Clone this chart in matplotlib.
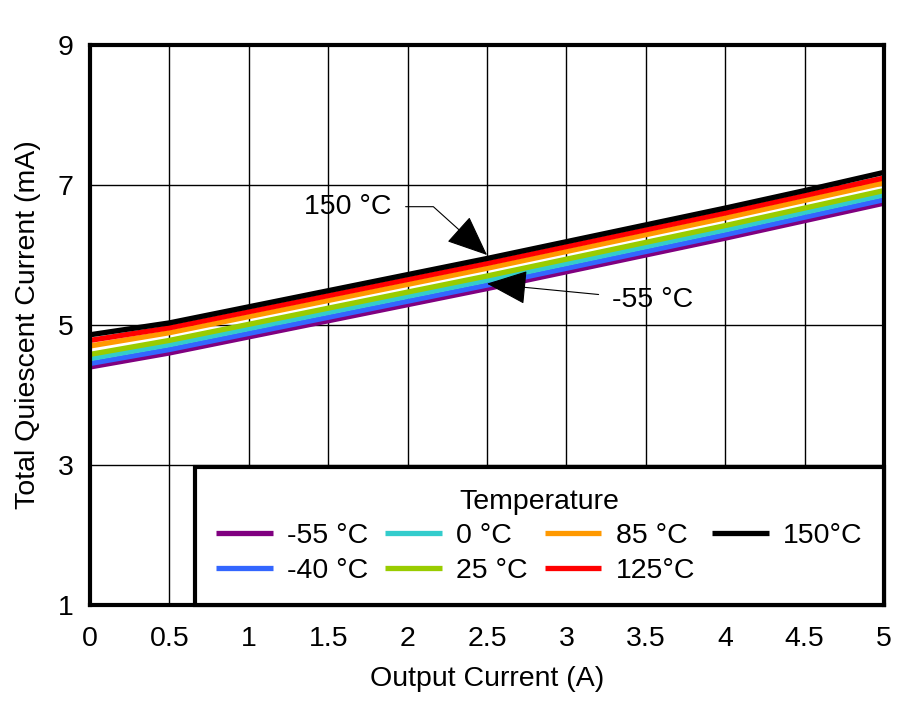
import matplotlib.pyplot as plt

plt.rcParams["font.family"] = ["Liberation Sans", "DejaVu Sans"]

output_current = [0, 0.5, 1, 1.5, 2, 2.5, 3, 3.5, 4, 4.5, 5]

iq_m55 = [4.40, 4.60, 4.83, 5.06, 5.29, 5.52, 5.76, 6.00, 6.24, 6.49, 6.74]
iq_m40 = [4.45, 4.65, 4.88, 5.11, 5.34, 5.57, 5.81, 6.05, 6.29, 6.54, 6.79]
iq_0 = [4.52, 4.72, 4.95, 5.18, 5.41, 5.64, 5.88, 6.12, 6.36, 6.61, 6.86]
iq_25 = [4.58, 4.78, 5.01, 5.24, 5.47, 5.70, 5.94, 6.18, 6.42, 6.67, 6.92]
iq_85 = [4.70, 4.89, 5.12, 5.35, 5.58, 5.81, 6.05, 6.29, 6.53, 6.78, 7.03]
iq_125 = [4.78, 4.96, 5.19, 5.42, 5.65, 5.88, 6.12, 6.36, 6.60, 6.85, 7.10]
iq_150 = [4.86, 5.03, 5.26, 5.49, 5.72, 5.95, 6.19, 6.43, 6.67, 6.92, 7.18]

labels = ["-55 °C", "-40 °C", "0 °C", "25 °C", "85 °C", "125°C", "150°C"]
colors = ["#800080", "#3366ff", "#33cccc", "#99cc00", "#ff9900", "#ff0000", "#000000"]
series = [iq_m55, iq_m40, iq_0, iq_25, iq_85, iq_125, iq_150]

x_ticks = [0, 0.5, 1, 1.5, 2, 2.5, 3, 3.5, 4, 4.5, 5]
x_ticklabels = ["0", "0.5", "1", "1.5", "2", "2.5", "3", "3.5", "4", "4.5", "5"]
y_ticks = [1, 3, 5, 7, 9]

fs = 20.5

fig = plt.figure(figsize=(9.16, 7.01), dpi=100)
ax = fig.add_axes([0.0983, 0.137, 0.8667, 0.7988])

for vals, lab, col in zip(series, labels, colors):
    ax.plot(output_current, vals, color=col, linewidth=3.8, label=lab,
            solid_capstyle="butt")

ax.set_xlim(0, 5)
ax.set_ylim(1, 9)
ax.set_xticks(x_ticks)
ax.set_xticklabels(x_ticklabels)
ax.set_yticks(y_ticks)
ax.tick_params(length=0, labelsize=fs)
ax.tick_params(axis="x", pad=15)
ax.tick_params(axis="y", pad=12)
ax.grid(True, color="black", linewidth=1)
ax.set_axisbelow(True)
for sp in ax.spines.values():
    sp.set_linewidth(3)

ax.set_xlabel("Output Current (A)", fontsize=fs, labelpad=10)
ax.set_ylabel("Total Quiescent Current (mA)", fontsize=fs, labelpad=12)

ax.annotate("150 °C", xy=(2.5, 6.0), xytext=(1.90, 6.69),
            fontsize=fs, ha="right", va="center",
            arrowprops=dict(arrowstyle="-|>,head_length=1.3,head_width=0.55",
                            mutation_scale=20, color="black", lw=0.8,
                            connectionstyle="angle,angleA=0,angleB=-42,rad=0",
                            shrinkA=8, shrinkB=0))
ax.annotate("-55 °C", xy=(2.5, 5.59), xytext=(3.29, 5.36),
            fontsize=fs, ha="left", va="center",
            arrowprops=dict(arrowstyle="-|>,head_length=1.3,head_width=0.55",
                            mutation_scale=20, color="black", lw=0.8,
                            shrinkA=8, shrinkB=0))

leg = ax.legend(loc="lower left", bbox_to_anchor=(0.132, 0, 0.868, 0.246),
                mode="expand", ncol=4, title="Temperature", fontsize=fs,
                title_fontsize=fs, fancybox=False, framealpha=1,
                edgecolor="black", borderaxespad=0, handlelength=2.0,
                handletextpad=0.5, columnspacing=1.2, labelspacing=0.3,
                borderpad=0.75)
leg.get_frame().set_linewidth(3)

fig.savefig("out.png", dpi=100)
